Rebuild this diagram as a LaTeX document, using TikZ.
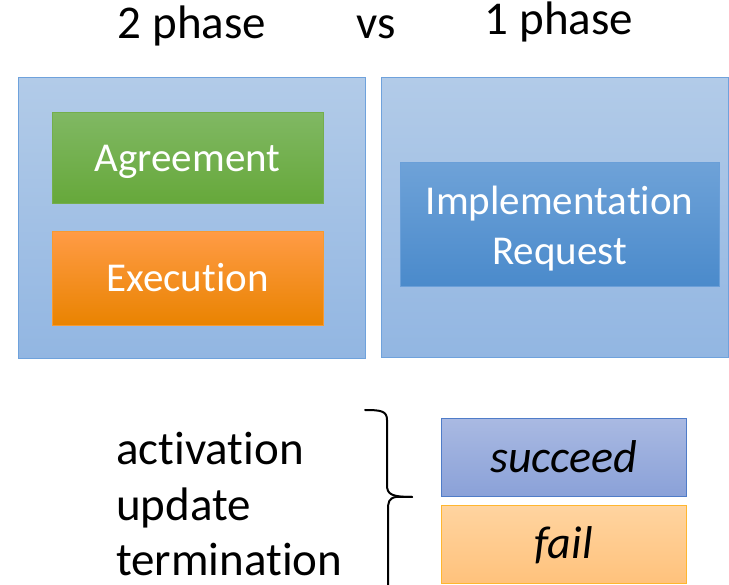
\documentclass[tikz,border=0pt]{standalone}
\usepackage{fontspec}
\setmainfont{Carlito}[RawFeature={-liga;-dlig;-clig}]
\definecolor{outerline}{HTML}{6FA2DC}
\definecolor{outertop}{HTML}{B2CBE8}
\definecolor{outerbot}{HTML}{92B6E2}
\definecolor{agline}{HTML}{74AE4C}
\definecolor{agtop}{HTML}{80B863}
\definecolor{agbot}{HTML}{66A83A}
\definecolor{exline}{HTML}{F79A30}
\definecolor{extop}{HTML}{FF9B45}
\definecolor{exmid}{HTML}{FF8C00}
\definecolor{exbot}{HTML}{E98300}
\definecolor{imline}{HTML}{6A9FD8}
\definecolor{imtop}{HTML}{6EA2D8}
\definecolor{imbot}{HTML}{4A8ACB}
\definecolor{suline}{HTML}{4F7CC8}
\definecolor{sutop}{HTML}{A9B9E2}
\definecolor{subot}{HTML}{8AA1D8}
\definecolor{faline}{HTML}{FFB62F}
\definecolor{fatop}{HTML}{FFD4A0}
\definecolor{fabot}{HTML}{FFC27C}
\begin{document}
\begin{tikzpicture}[x=1pt,y=-1pt,
  box/.style={line width=1pt, inner sep=0pt,
    font=\fontsize{41}{50}\selectfont, text height=26pt, text depth=0pt},
  outerbox/.style={box, draw=outerline, top color=outertop, bottom color=outerbot},
  agbox/.style={box, draw=agline, top color=agtop, bottom color=agbot, text=white},
  exbox/.style={box, draw=exline, top color=extop, middle color=exmid, bottom color=exbot, text=white},
  imbox/.style={box, draw=imline, top color=imtop, bottom color=imbot},
  imtext/.style={inner sep=0pt, anchor=base, text=white, font=\fontsize{41}{50}\selectfont},
  subox/.style={box, draw=suline, top color=sutop, bottom color=subot, font=\fontsize{46}{50}\selectfont\itshape, text height=29pt},
  fabox/.style={box, draw=faline, top color=fatop, bottom color=fabot, font=\fontsize{46}{50}\selectfont\itshape, text height=29pt},
  label/.style={inner sep=0pt, font=\fontsize{47}{55}\selectfont},
  brace/.style={line width=2pt, line cap=round, line join=round}]
\useasboundingbox (0,0) rectangle (729,585);
% titles
\node[label, anchor=base] (t2) at (192,39) {2 phase};
\node[label, anchor=base] (tvs) at (376,39) {vs};
\node[label, anchor=base] (t1) at (559,35) {1 phase};
% outer boxes
\node[outerbox, minimum width=347pt, minimum height=281pt] (left) at (191.5,218.5) {};
\node[outerbox, minimum width=347pt, minimum height=280pt] (right) at (554.5,218) {};
% inner boxes
\node[agbox, minimum width=271pt, minimum height=91pt] (agree) at (187.5,158.5) {Agreement};
\node[exbox, minimum width=271pt, minimum height=94pt] (exec) at (187.5,279) {Execution};
\node[imbox, minimum width=319pt, minimum height=124pt] (impl) at (559.5,225) {};
\node[imtext] (impl1) at (559.5,215) {Implementation};
\node[imtext] (impl2) at (559.5,265) {Request};
% bottom
\node[label, anchor=base west] (act) at (116,465) {activation};
\node[label, anchor=base west] (upd) at (116,520) {update};
\node[label, anchor=base west] (term) at (116,575) {termination};
\node[subox, minimum width=245pt, minimum height=78pt] (succ) at (563.5,458) {succeed};
\node[fabox, minimum width=245pt, minimum height=78pt] (fail) at (563.5,544) {fail};
% brace
\coordinate (tip) at (412,497);
\draw[brace] (365,410) .. controls (381,410) and (387,411) .. (387,420) -- (387,485)
  .. controls (387,494) and (391,497) .. (tip);
\draw[brace] (tip) -- (396,497) .. controls (389,498) and (388,502) .. (388,510) -- (388,590);
\end{tikzpicture}
\end{document}
